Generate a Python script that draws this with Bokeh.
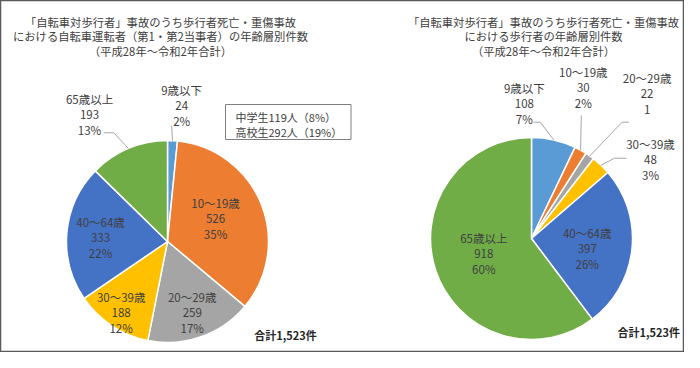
import math
from bokeh.plotting import figure
from bokeh.models import Range1d, ColumnDataSource
from bokeh.embed import file_html
from bokeh.resources import INLINE
from bokeh.core.properties import value

FONT = "Noto Sans CJK JP"
TXT = "#404040"

# ---------------- data ----------------
left_title = ["「自転車対歩行者」事故のうち歩行者死亡・重傷事故",
              "における自転車運転者（第1・第2当事者）の年齢層別件数",
              "（平成28年～令和2年合計）"]
right_title = ["「自転車対歩行者」事故のうち歩行者死亡・重傷事故",
               "における歩行者の年齢層別件数",
               "（平成28年～令和2年合計）"]
categories = ["9歳以下", "10～19歳", "20～29歳", "30～39歳", "40～64歳", "65歳以上"]
left_counts = [24, 526, 259, 188, 333, 193]
left_pct = ["2%", "35%", "17%", "12%", "22%", "13%"]
right_counts = [108, 30, 22, 48, 397, 918]
right_pct = ["7%", "2%", "1", "3%", "26%", "60%"]
colors = ["#5B9BD5", "#ED7D31", "#A5A5A5", "#FFC000", "#4472C4", "#70AD47"]
note_lines = ["中学生119人（8%）", "高校生292人（19%）"]
total_label = "合計1,523件"

# ---------------- layout (reference pixel coords) ----------------
W, H = 684, 352
def fx(x): return x
def fy(y): return H - y

# label placement: (radius factor, angle nudge in degrees) per slice
left_lab = [(1.353, 3.1), (0.526, -3.1), (0.741, 0.1), (0.837, -0.2), (0.664, -1.8), (1.473, -8.8)]
right_lab = [(1.335, -15.8), (1.578, -10.1), (1.834, 3.4), (1.413, 13.0), (0.561, 4.4), (0.496, 0.7)]
# leaders: slice index -> (start dx, start dy from label centre, elbow dx)
left_lead = {0: (-10, 20, 0), 5: (14.3, 18, 10)}
right_lead = {0: (9.3, 18.4, 6.7), 1: (-2, 27.7, 0), 2: (-18.4, 28.4, -6.6), 3: (-24, -1.5, -12)}

LINE_GAP = 15.6

p = figure(width=W, height=H, x_range=Range1d(0, W), y_range=Range1d(0, H),
           output_backend="svg", toolbar_location=None, min_border=0)
p.axis.visible = False
p.grid.visible = False
p.background_fill_color = "white"
p.border_fill_color = "white"
p.outline_line_color = "#595959"
p.outline_line_width = 1.5


def draw_pie(cx, cy, r, counts, pcts, lab, lead):
    total = sum(counts)
    cum = [0]
    for c in counts:
        cum.append(cum[-1] + c)
    starts, ends, mids = [], [], []
    for i in range(len(counts)):
        t1 = 360.0 * cum[i] / total
        t2 = 360.0 * cum[i + 1] / total
        starts.append(math.radians(90 - t2))
        ends.append(math.radians(90 - t1))
        mids.append((t1 + t2) / 2)
    src = ColumnDataSource(dict(start=starts, end=ends, color=colors))
    p.wedge(x=fx(cx), y=fy(cy), radius=r, start_angle="start", end_angle="end",
            fill_color="color", line_color="white", line_width=1.5, source=src)
    # labels
    tx, ty, tt = [], [], []
    for i in range(len(counts)):
        rf, dth = lab[i]
        th = math.radians(mids[i] + dth)
        lx = fx(cx) + rf * r * math.sin(th)
        ly = fy(cy) + rf * r * math.cos(th)
        for k, s in enumerate([categories[i], str(counts[i]), pcts[i]]):
            tx.append(lx)
            ty.append(ly + (1 - k) * LINE_GAP)
            tt.append(s)
        if i in lead:
            sdx, sdy, edx = lead[i]
            x0, y0 = lx + sdx, ly - sdy
            xs = [x0]
            ys = [y0]
            if edx:
                xs.append(x0 + edx)
                ys.append(y0)
            thm = math.radians(mids[i])
            xs.append(fx(cx) + r * math.sin(thm))
            ys.append(fy(cy) + r * math.cos(thm))
            p.line(xs, ys, line_color="#A6A6A6", line_width=1)
    p.text(x=tx, y=ty, text=tt, text_font=value(FONT), text_font_size="11.5px",
           text_color=TXT, text_align="center", text_baseline="middle")


draw_pie(167, 241, 101, left_counts, left_pct, left_lab, left_lead)
draw_pie(531, 238, 101, right_counts, right_pct, right_lab, right_lead)

# titles
title_y = [21, 35, 50]
p.text(x=[fx(160)] * 3, y=[fy(v) for v in title_y], text=left_title,
       text_font=value(FONT), text_font_size="11.3px", text_color=TXT,
       text_align="center", text_baseline="middle")
p.text(x=[fx(543)] * 3, y=[fy(v) for v in title_y], text=right_title,
       text_font=value(FONT), text_font_size="11.3px", text_color=TXT,
       text_align="center", text_baseline="middle")

# note box
p.quad(left=fx(225), right=fx(350.5), top=fy(104), bottom=fy(139),
       fill_color="white", line_color="#7F7F7F", line_width=1)
p.text(x=[fx(235)] * 2, y=[fy(116.7), fy(131.7)], text=note_lines,
       text_font=value(FONT), text_font_size="11px", text_color=TXT,
       text_align="left", text_baseline="middle")

# totals
p.text(x=[fx(285), fx(648.3)], y=[fy(334), fy(331.7)], text=[total_label] * 2,
       text_font=value(FONT), text_font_size="11px", text_font_style="bold",
       text_color="#262626", text_align="center", text_baseline="middle")

open("out.html", "w").write(file_html(p, INLINE))
